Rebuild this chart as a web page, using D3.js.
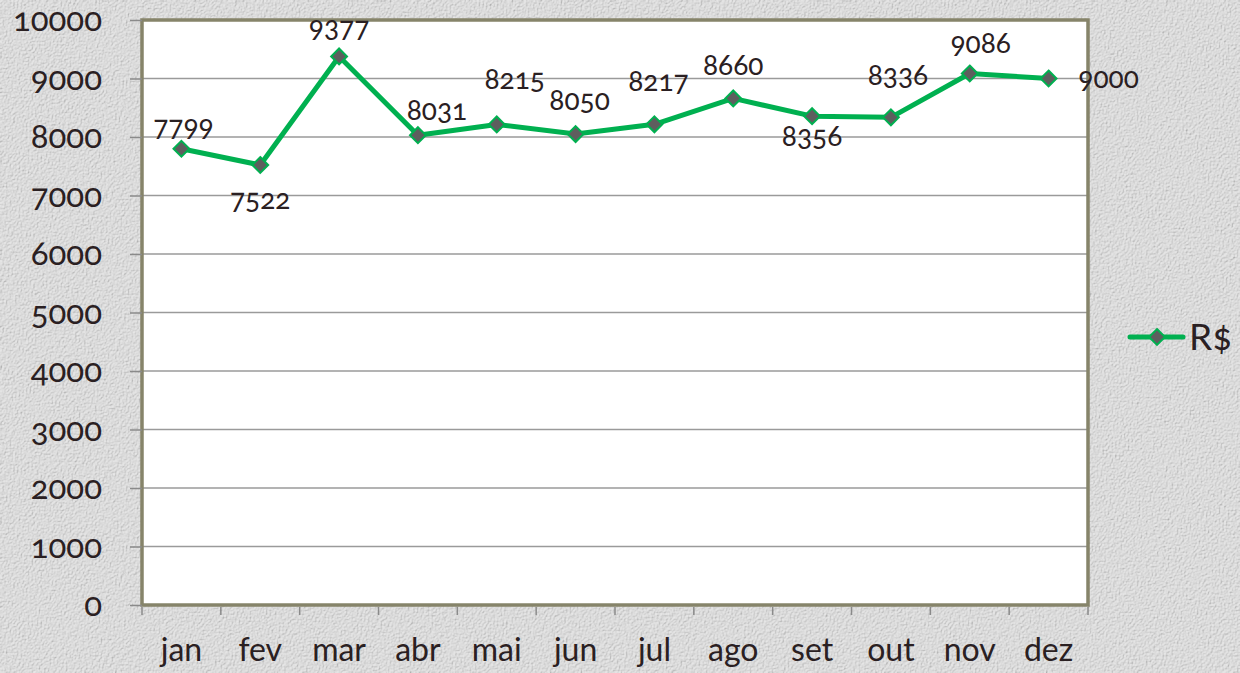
<!DOCTYPE html>
<html>
<head>
<meta charset="utf-8">
<script src="https://cdn.jsdelivr.net/npm/d3@7"></script>
<style>
  html, body { margin: 0; padding: 0; background: #dadada; }
  svg, svg text { font-family: Lato, "Open Sans", sans-serif; font-feature-settings: "onum" 1; }
  svg { display: block; }
</style>
</head>
<body>
<div id="box"></div>
<script>
const months = ['jan', 'fev', 'mar', 'abr', 'mai', 'jun', 'jul', 'ago', 'set', 'out', 'nov', 'dez'];
const values = [7799, 7522, 9377, 8031, 8215, 8050, 8217, 8660, 8356, 8336, 9086, 9000];
const yTicks = [0, 1000, 2000, 3000, 4000, 5000, 6000, 7000, 8000, 9000, 10000];
const seriesName = 'R$';
// where each data label sits relative to its point [dx, dy]
const labelOffsets = [[2, -20], [0, 37], [0, -26], [19, -22], [18, -42], [4, -31], [4, -40], [0, -30], [0, 23], [7, -39], [11, -27], [60, 2]];

const width = 1240, height = 673;
const padLeft = 142, padRight = 1088, padTop = 20, padBottom = 605;
const textColor = '#2a2022';
const font = 'Lato, "Open Sans", sans-serif';

const svg = d3.select('#box').append('svg')
  .attr('width', width)
  .attr('height', height);

// paper texture background
const defs = svg.append('defs');
const filt = defs.append('filter').attr('id', 'paper').attr('x', 0).attr('y', 0).attr('width', '100%').attr('height', '100%');
filt.append('feTurbulence').attr('type', 'fractalNoise').attr('baseFrequency', 0.55).attr('numOctaves', 3).attr('seed', 4).attr('result', 'noise');
filt.append('feDiffuseLighting').attr('in', 'noise').attr('surfaceScale', 1.3).attr('lighting-color', '#ebebeb').attr('result', 'lit')
  .append('feDistantLight').attr('azimuth', 225).attr('elevation', 60);
filt.append('feComposite').attr('in', 'lit').attr('in2', 'SourceGraphic').attr('operator', 'in');

svg.append('rect').attr('width', width).attr('height', height).attr('fill', '#d8d8d8');
svg.append('rect').attr('width', width).attr('height', height).attr('fill', '#d8d8d8').attr('filter', 'url(#paper)').attr('opacity', 0.8);

const x = d3.scaleBand().domain(months).range([padLeft, padRight]);
const y = d3.scaleLinear().domain([0, 10000]).range([padBottom, padTop]);

// plot area
svg.append('rect')
  .attr('x', padLeft).attr('y', padTop)
  .attr('width', padRight - padLeft).attr('height', padBottom - padTop)
  .attr('fill', '#ffffff');

// gridlines
svg.append('g').selectAll('line').data(yTicks.filter(d => d > 0))
  .join('line')
  .attr('x1', padLeft).attr('x2', padRight)
  .attr('y1', d => y(d)).attr('y2', d => y(d))
  .style('stroke', '#9a9a9a')
  .style('stroke-width', 1.5);

// border
svg.append('rect')
  .attr('x', padLeft).attr('y', padTop)
  .attr('width', padRight - padLeft).attr('height', padBottom - padTop)
  .attr('fill', 'none')
  .style('stroke', '#86846a')
  .style('stroke-width', 3.5);

// y axis
const yAxis = svg.append('g')
  .attr('transform', `translate(${padLeft},0)`)
  .call(d3.axisLeft(y).tickValues(yTicks).tickSize(12).tickPadding(28).tickFormat(d3.format('d')))
  .attr('font-family', font);
yAxis.select('.domain').remove();
yAxis.selectAll('line').style('stroke', '#8a8a8a').style('stroke-width', 1.5);
yAxis.selectAll('text')
  .style('font-size', '33px')
  .style('fill', textColor)
  .attr('dy', '0.32em');

// x axis
const xAxis = svg.append('g')
  .attr('transform', `translate(0,${padBottom})`)
  .call(d3.axisBottom(x).tickSize(0).tickPadding(33))
  .attr('font-family', font);
xAxis.select('.domain').remove();
xAxis.selectAll('text')
  .style('font-size', '32px')
  .style('fill', textColor);

// category separator ticks
svg.append('g').selectAll('line').data(months.concat(['end']))
  .join('line')
  .attr('x1', (d, i) => padLeft + i * x.step()).attr('x2', (d, i) => padLeft + i * x.step())
  .attr('y1', padBottom + 2).attr('y2', padBottom + 10)
  .style('stroke', '#8a8a8a')
  .style('stroke-width', 1.5);

const pts = months.map((m, i) => ({ m, v: values[i], i }));
const cx = d => x(d.m) + x.bandwidth() / 2;

// series line
svg.append('path')
  .datum(pts)
  .attr('d', d3.line().x(cx).y(d => y(d.v)))
  .attr('fill', 'none')
  .style('stroke', '#00b050')
  .style('stroke-width', 5)
  .style('stroke-linejoin', 'round');

const diamond = d3.symbol().type(d3.symbolDiamond2).size(160);

svg.append('g').selectAll('path').data(pts)
  .join('path')
  .attr('d', diamond)
  .attr('transform', d => `translate(${cx(d)},${y(d.v)})`)
  .style('fill', '#5e5e5e')
  .style('stroke', '#00b050')
  .style('stroke-width', 2);

// data labels
svg.append('g').selectAll('text').data(pts)
  .join('text')
  .attr('x', d => cx(d) + labelOffsets[d.i][0])
  .attr('y', d => y(d.v) + labelOffsets[d.i][1])
  .attr('dy', '0.25em')
  .attr('text-anchor', 'middle')
  .text(d => d.v)
  .style('font-size', '28px')
  .style('fill', textColor);

// legend
const lg = svg.append('g').attr('transform', 'translate(1130,337)');
lg.append('line').attr('x1', 0).attr('x2', 53).attr('y1', 0).attr('y2', 0)
  .style('stroke', '#00b050').style('stroke-width', 5).style('stroke-linecap', 'round');
lg.append('path').attr('d', diamond).attr('transform', 'translate(27,0)')
  .style('fill', '#5e5e5e').style('stroke', '#00b050').style('stroke-width', 2);
lg.append('text').attr('x', 59).attr('y', 0).attr('dy', '0.36em')
  .text(seriesName)
  .style('font-size', '37px')
  .style('fill', textColor);
</script>
</body>
</html>
